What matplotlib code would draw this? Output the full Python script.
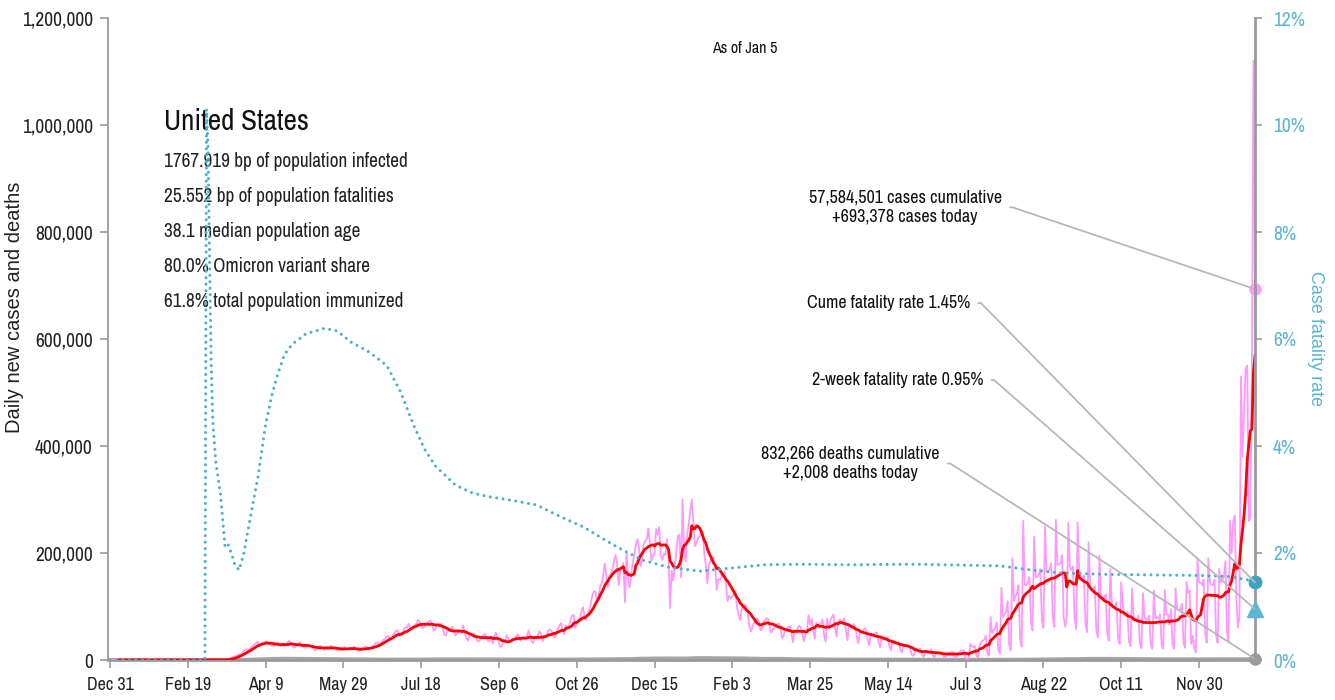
import numpy as np
import pandas as pd
import matplotlib
matplotlib.use('Agg')
import matplotlib.pyplot as plt
from matplotlib import font_manager
from matplotlib.ticker import FuncFormatter, MultipleLocator


def pick_narrow():
    # look for an installed condensed / narrow face
    found = []
    for f in font_manager.fontManager.ttflist:
        if f.style != 'normal' or f.weight not in (400, 'normal', 'regular'):
            continue
        st = str(f.stretch)
        if 'Narrow' in f.name or 'Condensed' in f.name or st in ('condensed', 'semi-condensed'):
            rank = 0 if st == 'condensed' or 'Narrow' in f.name else 1
            found.append((rank, f.name, st))
    found.sort()
    return found[0] if found else None


nf = pick_narrow()
if nf:
    plt.rcParams['font.family'] = [nf[1], 'DejaVu Sans']
    plt.rcParams['font.stretch'] = nf[2]
    SCALE = 1.0
else:
    plt.rcParams['font.family'] = ['Liberation Sans', 'DejaVu Sans']
    SCALE = 0.85

# daily new cases (thousands), one row per week Tue..Mon, starting Tue Dec 31 2019
cases_k = [
    [0, 0, 0, 0, 0, 0, 0], [0, 0, 0, 0, 0, 0, 0], [0, 0, 0, 0, 0, 0, 0],
    [0, 0, 0, 0, 0, 0, 0], [0, 0, 0, 0, 0, 0, 0], [0, 0, 0, 0, 0, 0, 0],
    [0, 0, 0, 0, 0, 0, 0], [0, 0, 0, 0, 0, 0, 0], [0, 0, 0, 0, 0, 0, 0],
    [0, 0, 0.1, 0.1, 0.1, 0.1, 0.2],
    [0.3, 0.4, 0.5, 0.7, 0.9, 1.2, 1.8],
    [2.4, 3.5, 5.0, 6.5, 7.4, 9.0, 11],
    [10.5, 13, 17, 19, 20, 19, 21],
    [25, 26, 29, 32, 34, 26, 30],
    [31, 33, 34, 35, 30, 28, 26],
    [26, 30, 31, 33, 28, 26, 29],
    [25, 29, 32, 36, 33, 27, 23],
    [24, 27, 30, 33, 29, 25, 23],
    [24, 25, 28, 27, 25, 20, 18],
    [22, 21, 27, 25, 24, 19, 22],
    [20, 22, 27, 24, 22, 20, 18],
    [18, 19, 22, 24, 24, 20, 20],
    [20, 20, 21, 25, 22, 18, 17],
    [18, 21, 23, 25, 25, 20, 20],
    [23, 26, 28, 32, 33, 27, 31],
    [35, 38, 40, 45, 44, 40, 40],
    [47, 51, 55, 55, 45, 46, 48],
    [58, 62, 60, 68, 60, 58, 62],
    [66, 68, 75, 72, 64, 60, 62],
    [65, 70, 72, 74, 66, 55, 57],
    [64, 68, 68, 68, 58, 47, 46],
    [56, 54, 58, 62, 56, 46, 49],
    [53, 55, 52, 64, 51, 41, 36],
    [45, 46, 45, 49, 45, 36, 35],
    [39, 44, 46, 49, 43, 35, 35],
    [43, 31, 45, 51, 42, 31, 24],
    [27, 34, 36, 46, 41, 34, 35],
    [39, 39, 44, 48, 42, 36, 40],
    [39, 39, 44, 55, 46, 35, 32],
    [43, 40, 45, 54, 49, 35, 41],
    [43, 50, 56, 57, 54, 45, 42],
    [52, 59, 65, 69, 54, 48, 65],
    [60, 63, 76, 83, 84, 60, 66],
    [75, 79, 90, 99, 82, 75, 85],
    [92, 104, 121, 128, 128, 108, 119],
    [137, 143, 158, 180, 160, 136, 156],
    [160, 170, 185, 196, 178, 140, 166],
    [173, 181, 108, 201, 150, 136, 158],
    [182, 196, 215, 226, 211, 175, 188],
    [216, 222, 226, 246, 218, 186, 195],
    [198, 245, 234, 249, 195, 187, 199],
    [196, 226, 196, 97, 167, 148, 175],
    [200, 232, 234, 154, 300, 206, 184],
    [234, 255, 278, 300, 257, 213, 218],
    [229, 230, 236, 240, 200, 176, 143],
    [177, 186, 193, 191, 174, 131, 151],
    [150, 155, 160, 165, 140, 110, 120],
    [115, 120, 122, 130, 100, 85, 75],
    [95, 95, 104, 100, 86, 64, 53],
    [62, 70, 70, 78, 71, 56, 56],
    [72, 74, 78, 77, 62, 51, 58],
    [58, 67, 66, 68, 59, 41, 45],
    [57, 57, 62, 63, 51, 33, 54],
    [53, 59, 64, 61, 49, 35, 48],
    [53, 84, 66, 77, 56, 40, 70],
    [63, 67, 69, 76, 47, 34, 77],
    [59, 74, 80, 85, 60, 44, 71],
    [76, 74, 73, 78, 56, 37, 66],
    [62, 60, 67, 62, 45, 31, 52],
    [51, 55, 59, 57, 38, 27, 49],
    [45, 48, 50, 52, 34, 24, 42],
    [38, 40, 42, 42, 26, 18, 36],
    [30, 32, 33, 34, 20, 14, 30],
    [27, 28, 28, 26, 12, 8, 10],
    [22, 20, 20, 21, 10, 6, 15],
    [16, 16, 17, 20, 8, 5, 13],
    [14, 15, 14, 13, 6, 4, 12],
    [13, 14, 15, 15, 5, 3, 13],
    [14, 18, 18, 17, 3, 2, 4],
    [30, 26, 24, 26, 7, 5, 28],
    [32, 36, 38, 46, 12, 8, 80],
    [50, 55, 60, 70, 18, 12, 135],
    [80, 85, 90, 110, 28, 18, 190],
    [110, 120, 125, 140, 40, 25, 260],
    [140, 140, 145, 155, 70, 55, 230],
    [155, 155, 160, 170, 75, 60, 250],
    [165, 165, 170, 180, 80, 62, 262],
    [178, 178, 182, 196, 80, 62, 80],
    [257, 175, 168, 175, 78, 58, 257],
    [168, 158, 152, 158, 68, 52, 220],
    [138, 133, 133, 138, 56, 42, 195],
    [118, 118, 113, 123, 50, 36, 170],
    [104, 99, 99, 108, 42, 30, 145],
    [104, 85, 83, 90, 34, 26, 134],
    [80, 77, 75, 83, 30, 22, 125],
    [80, 75, 75, 83, 28, 21, 130],
    [77, 80, 77, 85, 28, 21, 131],
    [85, 85, 66, 95, 28, 21, 134],
    [95, 93, 95, 105, 33, 23, 146],
    [125, 130, 30, 45, 22, 14, 190],
    [145, 145, 140, 150, 48, 32, 190],
    [145, 140, 140, 150, 45, 32, 170],
    [145, 150, 155, 185, 52, 35, 260],
    [200, 260, 270, 120, 60, 80, 530],
    [380, 470, 545, 550, 260, 265, 550],
    [1120, 693.378],
]

# weekly average daily deaths (thousands), week ending Mondays from Jan 6 2020
deaths_wk = [0, 0, 0, 0, 0, 0, 0, 0, 0, 0,
             0.01, 0.06, 0.35, 1.1, 1.9, 2.1, 2.0, 1.9, 1.7, 1.5,
             1.3, 1.1, 1.0, 0.85, 0.7, 0.6, 0.55, 0.6, 0.75, 0.95,
             1.1, 1.05, 1.05, 1.0, 0.95, 0.85, 0.75, 0.8, 0.75, 0.75,
             0.7, 0.7, 0.8, 0.85, 0.95, 1.2, 1.5, 1.6, 2.2, 2.5,
             2.7, 2.6, 2.6, 3.3, 3.3, 3.1, 3.0, 2.9, 2.4, 2.0,
             2.0, 1.8, 1.4, 1.0, 0.95, 0.8, 0.75, 0.72, 0.7, 0.68,
             0.65, 0.58, 0.52, 0.45, 0.38, 0.35, 0.3, 0.28, 0.25, 0.22,
             0.25, 0.3, 0.35, 0.45, 0.6, 0.85, 1.1, 1.4, 1.5, 1.9,
             2.0, 1.9, 1.8, 1.6, 1.5, 1.4, 1.2, 1.1, 1.1, 1.0,
             1.2, 1.3, 1.3, 1.3, 1.3]

# case fatality rate (%)
cfr_dates = ['2019-12-31', '2020-03-01', '2020-03-02', '2020-03-03', '2020-03-04',
             '2020-03-05', '2020-03-06', '2020-03-08', '2020-03-11', '2020-03-14',
             '2020-03-16', '2020-03-18', '2020-03-20', '2020-03-23', '2020-03-26',
             '2020-03-29', '2020-04-01', '2020-04-04', '2020-04-09', '2020-04-13',
             '2020-04-17', '2020-04-21', '2020-04-26', '2020-05-05', '2020-05-17',
             '2020-05-25', '2020-06-03', '2020-06-15', '2020-06-26', '2020-07-05',
             '2020-07-13', '2020-07-20', '2020-07-27', '2020-08-09', '2020-08-20',
             '2020-08-31', '2020-09-15', '2020-09-30', '2020-10-09', '2020-10-20',
             '2020-10-30', '2020-11-10', '2020-11-21', '2020-12-07', '2020-12-23',
             '2021-01-13', '2021-02-03', '2021-02-24', '2021-03-19', '2021-04-20',
             '2021-06-01', '2021-07-25', '2021-08-15', '2021-09-01', '2021-10-01',
             '2021-11-01', '2021-11-30', '2021-12-20', '2021-12-31', '2022-01-05']
cfr_vals = [0, 0, 10.3, 9.6, 7.5,
            5.6, 4.5, 3.7, 3.1, 2.1,
            2.15, 2.0, 1.8, 1.68, 2.0,
            2.47, 2.95, 3.4, 4.4, 4.95,
            5.36, 5.7, 5.9, 6.1, 6.2,
            6.15, 5.94, 5.75, 5.5, 5.0,
            4.4, 3.95, 3.63, 3.27, 3.12,
            3.05, 2.98, 2.9, 2.77, 2.62,
            2.49, 2.3, 2.11, 1.87, 1.74,
            1.66, 1.72, 1.78, 1.79, 1.78,
            1.79, 1.76, 1.68, 1.63, 1.6,
            1.59, 1.58, 1.56, 1.5, 1.45]

cum_cases = 57584501
today_cases = 693378
cum_deaths = 832266
today_deaths = 2008
cume_cfr = 1.45
two_week_cfr = 0.95
country = 'United States'
stats = ['1767.919 bp of population infected',
         '25.552 bp of population fatalities',
         '38.1 median population age',
         '80.0% Omicron variant share',
         '61.8% total population immunized']

# ---- build series
daily = np.concatenate([np.array(r, dtype=float) for r in cases_k]) * 1000
days = pd.date_range('2019-12-31', periods=len(daily), freq='D')
cases = pd.Series(daily, index=days)
avg7 = cases.rolling(7).mean()
last_day = days[-1]

death_days = ([pd.Timestamp('2019-12-31')]
              + list(pd.date_range('2020-01-06', periods=len(deaths_wk), freq='7D'))
              + [last_day])
death_vals = [0.0] + [v * 1000 for v in deaths_wk] + [today_deaths]
cfr = pd.Series(cfr_vals, index=pd.to_datetime(cfr_dates))

PINK = '#ff99ff'
BLUE = '#4bb0cc'
BLUE_TXT = '#5ab4d4'
GREY = '#a6a6a6'
LEAD = '#b8b8b8'
REG = ['Liberation Sans', 'DejaVu Sans']

fig = plt.figure(figsize=(13.35, 7), dpi=100)
ax = fig.add_axes([108 / 1335, 40 / 700, 1147 / 1335, 642 / 700])
ax2 = ax.twinx()

ax.plot(death_days, death_vals, color=GREY, lw=3, zorder=2)
ax.plot(cases.index, cases.values, color=PINK, lw=1.3, zorder=3)
ax.plot(avg7.index, avg7.values, color='#ff0000', lw=2, zorder=4)
ax2.plot(cfr.index, cfr.values, color=BLUE, lw=2.2,
         linestyle=(0, (0.01, 2.1)), dash_capstyle='round', zorder=5)

# end markers
ax.plot([last_day], [today_cases], 'o', color=PINK, ms=8, clip_on=False, zorder=6)
ax.plot([last_day], [today_deaths], 'o', color='#9a9a9a', ms=8, clip_on=False, zorder=6)
ax2.plot([last_day], [cume_cfr], 'o', color='#3ea2c2', ms=9, clip_on=False, zorder=6)
ax2.plot([last_day], [two_week_cfr], '^', color='#5cb8d2', ms=11, clip_on=False, zorder=6)

ax.set_xlim(pd.Timestamp('2019-12-31') - pd.Timedelta(days=1.3), last_day)
ax.set_ylim(0, 1200000)
ax2.set_ylim(0, 12)

tick_days = pd.date_range('2019-12-31', '2021-11-30', freq='50D')
ax.set_xticks(tick_days)
ax.set_xticklabels([f'{d:%b} {d.day}' for d in tick_days])
ax.yaxis.set_major_locator(MultipleLocator(200000))
ax.yaxis.set_major_formatter(FuncFormatter(lambda v, p: f'{int(v):,}'))
ax2.yaxis.set_major_locator(MultipleLocator(2))
ax2.yaxis.set_major_formatter(FuncFormatter(lambda v, p: f'{int(v)}%'))

ax.spines['top'].set_visible(False)
ax.spines['right'].set_visible(False)
for s in ('top', 'left', 'bottom'):
    ax2.spines[s].set_visible(False)
ax.spines['left'].set_color('#9a9a9a')
ax.spines['left'].set_linewidth(1.3)
ax.spines['bottom'].set_color('#9a9a9a')
ax.spines['bottom'].set_linewidth(2)
ax2.spines['right'].set_color('#9a9a9a')
ax2.spines['right'].set_linewidth(2)

ax.tick_params(axis='y', length=6, width=1.2, color='#9a9a9a', labelsize=14 * SCALE,
               labelcolor='#222222', pad=5)
ax.tick_params(axis='x', length=6, width=1.2, color='#9a9a9a', labelsize=13 * SCALE,
               labelcolor='#222222', pad=6)
ax2.tick_params(axis='y', length=5, width=1.2, color='#9a9a9a', labelsize=14 * SCALE,
                labelcolor=BLUE_TXT, pad=8)

ax.set_ylabel('Daily new cases and deaths', fontsize=14.5, color='#222222', family=REG)
ax.yaxis.set_label_coords(-0.073, 0.55)
ax2.set_ylabel('Case fatality rate', fontsize=13, color=BLUE_TXT, rotation=270,
               family=REG, va='bottom')
ax2.yaxis.set_label_coords(1.045, 0.5)

# header texts
ax.text(0.555, 0.953, 'As of Jan 5', transform=ax.transAxes, ha='center',
        va='center', fontsize=11.5 * SCALE, color='#111111')
ax.text(0.049, 0.839, country, transform=ax.transAxes, ha='left', va='center',
        fontsize=21 * SCALE, color='#111111')
for i, s in enumerate(stats):
    ax.text(0.049, 0.776 - i * 0.0545, s, transform=ax.transAxes, ha='left',
            va='center', fontsize=13.9 * SCALE, color='#222222')

lead = dict(arrowstyle='-', color=LEAD, lw=1.3, relpos=(1, 0.5), shrinkA=4,
            shrinkB=0, connectionstyle='arc,angleA=0,armA=11,rad=0')
note_fs = 13 * SCALE

ax.annotate(f'{cum_cases:,} cases cumulative\n+{today_cases:,} cases today',
            xy=(last_day, today_cases), xytext=(0.695, 0.705),
            textcoords='axes fraction', ha='center', va='center',
            multialignment='center', fontsize=note_fs, color='#111111',
            linespacing=1.3, arrowprops=lead, zorder=7)
ax2.annotate(f'Cume fatality rate {cume_cfr:.2f}%',
             xy=(last_day, cume_cfr), xytext=(0.7515, 0.556),
             textcoords='axes fraction', ha='right', va='center',
             fontsize=note_fs, color='#111111', arrowprops=lead, zorder=7)
ax2.annotate(f'2-week fatality rate {two_week_cfr:.2f}%',
             xy=(last_day, two_week_cfr), xytext=(0.763, 0.436),
             textcoords='axes fraction', ha='right', va='center',
             fontsize=note_fs, color='#111111', arrowprops=lead, zorder=7)
ax.annotate(f'{cum_deaths:,} deaths cumulative\n+{today_deaths:,} deaths today',
            xy=(last_day, today_deaths), xytext=(0.647, 0.306),
            textcoords='axes fraction', ha='center', va='center',
            multialignment='center', fontsize=note_fs, color='#111111',
            linespacing=1.3, arrowprops=lead, zorder=7)

fig.savefig('out.png', dpi=100)
